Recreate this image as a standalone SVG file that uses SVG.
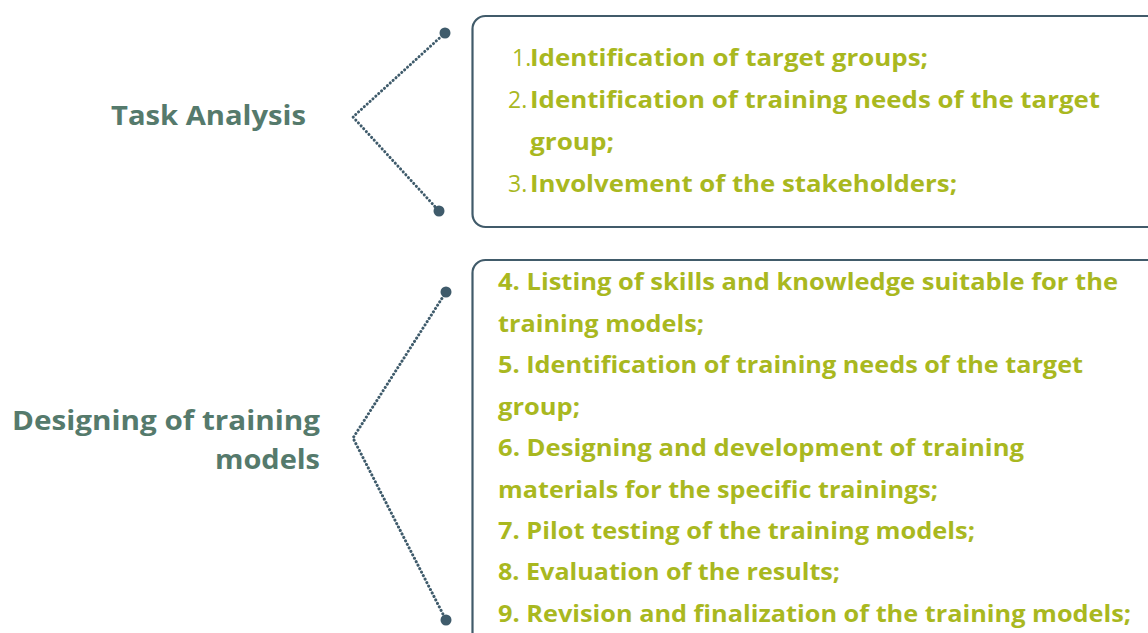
<svg xmlns="http://www.w3.org/2000/svg" width="1148" height="633" viewBox="0 0 1148 633">
<style>
.bg{fill:#ffffff}
.box{fill:#ffffff;stroke:#415b6a;stroke-width:2.2}
.lbl{font-family:"Open Sans","Liberation Sans",sans-serif;font-weight:700;font-size:26px;fill:#557a6c}
.it{font-family:"Open Sans","Liberation Sans",sans-serif;font-weight:700;font-size:23px;fill:#a9b81f}
.num{font-family:"Open Sans","Liberation Sans",sans-serif;font-weight:400;font-size:23px;fill:#a9b81f}
.dot{fill:none;stroke:#3f5b6b;stroke-width:3;stroke-dasharray:0.1 3.8;stroke-linecap:round}
.end{fill:#3f5b6b}
</style>
<rect class="bg" x="0" y="0" width="1148" height="633"/>
<g id="connectors">
  <polyline class="dot" points="445,33 353,117 439,211"/>
  <circle class="end" cx="445" cy="33" r="5.5"/>
  <circle class="end" cx="439" cy="211" r="5.5"/>
  <polyline class="dot" points="446,292 353,438 446,620"/>
  <circle class="end" cx="446" cy="292" r="5.5"/>
  <circle class="end" cx="446" cy="620" r="5.5"/>
</g>
<g id="label-task">
  <text class="lbl" x="111" y="125" textLength="195" lengthAdjust="spacingAndGlyphs">Task Analysis</text>
</g>
<g id="label-design">
  <text class="lbl" x="12" y="430" textLength="308" lengthAdjust="spacingAndGlyphs">Designing of training</text>
  <text class="lbl" x="215" y="469" textLength="105" lengthAdjust="spacingAndGlyphs">models</text>
</g>
<g id="box-task">
  <rect class="box" x="472.5" y="16" width="690" height="211" rx="13"/>
  <text class="num" x="512" y="66">1.</text>
  <text class="it" x="530" y="66" textLength="398" lengthAdjust="spacingAndGlyphs">Identification of target groups;</text>
  <text class="num" x="508" y="108">2.</text>
  <text class="it" x="530" y="108" textLength="570" lengthAdjust="spacingAndGlyphs">Identification of training needs of the target</text>
  <text class="it" x="530" y="150" textLength="84" lengthAdjust="spacingAndGlyphs">group;</text>
  <text class="num" x="508" y="192">3.</text>
  <text class="it" x="530" y="192" textLength="427" lengthAdjust="spacingAndGlyphs">Involvement of the stakeholders;</text>
</g>
<g id="box-design">
  <rect class="box" x="472.5" y="260" width="690" height="390" rx="13"/>
  <text class="it" x="498" y="290" textLength="620" lengthAdjust="spacingAndGlyphs">4. Listing of skills and knowledge suitable for the</text>
  <text class="it" x="498" y="332" textLength="206" lengthAdjust="spacingAndGlyphs">training models;</text>
  <text class="it" x="498" y="373" textLength="585" lengthAdjust="spacingAndGlyphs">5. Identification of training needs of the target</text>
  <text class="it" x="498" y="415" textLength="82" lengthAdjust="spacingAndGlyphs">group;</text>
  <text class="it" x="498" y="456" textLength="526" lengthAdjust="spacingAndGlyphs">6. Designing and development of training</text>
  <text class="it" x="498" y="498" textLength="440" lengthAdjust="spacingAndGlyphs">materials for the specific trainings;</text>
  <text class="it" x="498" y="539" textLength="477" lengthAdjust="spacingAndGlyphs">7. Pilot testing of the training models;</text>
  <text class="it" x="498" y="580" textLength="342" lengthAdjust="spacingAndGlyphs">8. Evaluation of the results;</text>
  <text class="it" x="498" y="622" textLength="633" lengthAdjust="spacingAndGlyphs">9. Revision and finalization of the training models;</text>
</g>
</svg>
